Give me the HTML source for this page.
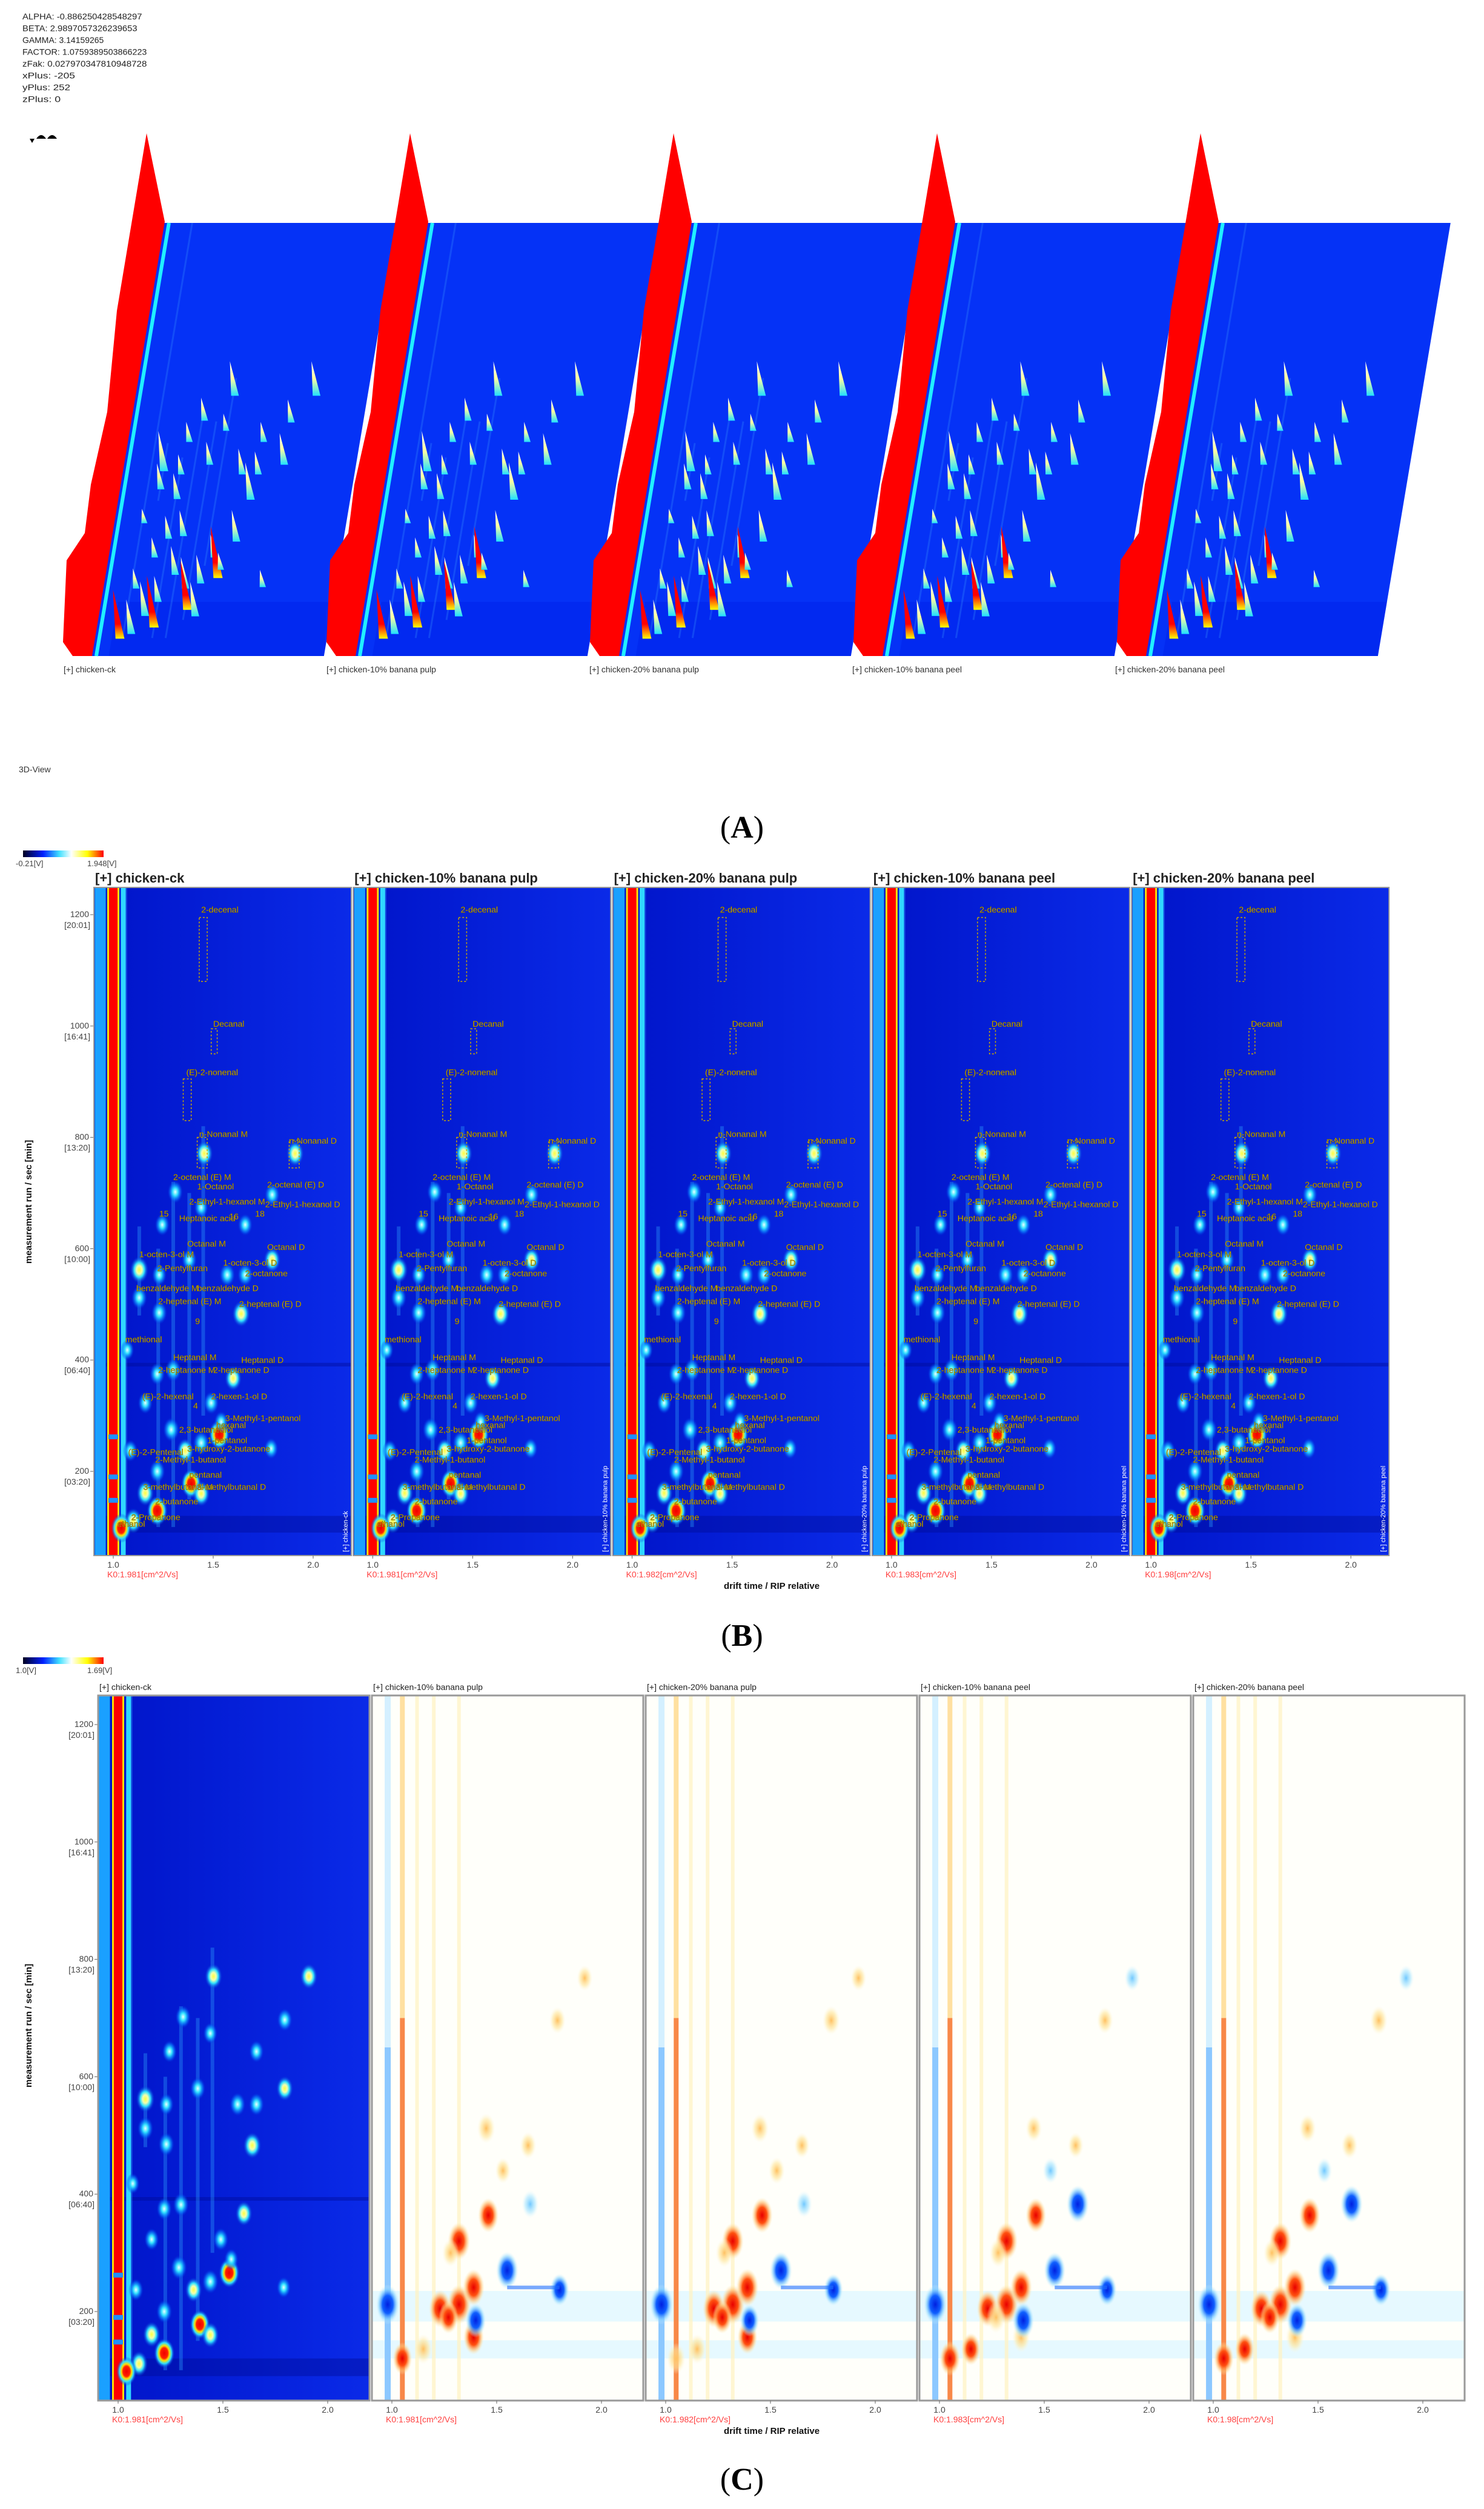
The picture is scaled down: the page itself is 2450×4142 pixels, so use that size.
<!DOCTYPE html>
<html><head><meta charset="utf-8"><title>GC-IMS figure</title>
<style>
html,body{margin:0;padding:0;background:#fff;}
svg{display:block;font-family:"Liberation Sans",Arial,sans-serif;}
</style></head>
<body>
<svg id="fig" xmlns="http://www.w3.org/2000/svg" width="2450" height="4142" viewBox="0 0 2450 4142">
<defs>
<radialGradient id="gLow"><stop offset="0" stop-color="#e8ffff"/><stop offset="0.35" stop-color="#30e0ff"/><stop offset="0.7" stop-color="#0a80ff" stop-opacity="0.6"/><stop offset="1" stop-color="#0030e0" stop-opacity="0"/></radialGradient>
<radialGradient id="gMid"><stop offset="0" stop-color="#ffff40"/><stop offset="0.3" stop-color="#f0ffb0"/><stop offset="0.55" stop-color="#30e0ff"/><stop offset="1" stop-color="#0030e0" stop-opacity="0"/></radialGradient>
<radialGradient id="gHigh"><stop offset="0" stop-color="#f00000"/><stop offset="0.35" stop-color="#ff2000"/><stop offset="0.5" stop-color="#ffe000"/><stop offset="0.7" stop-color="#30e0ff"/><stop offset="1" stop-color="#0030e0" stop-opacity="0"/></radialGradient>
<radialGradient id="gPos"><stop offset="0" stop-color="#e80000"/><stop offset="0.45" stop-color="#ff5010"/><stop offset="0.75" stop-color="#ffc070" stop-opacity="0.6"/><stop offset="1" stop-color="#fff0c0" stop-opacity="0"/></radialGradient>
<radialGradient id="gPosW"><stop offset="0" stop-color="#ffc060"/><stop offset="0.6" stop-color="#ffe8a0" stop-opacity="0.6"/><stop offset="1" stop-color="#fff8e0" stop-opacity="0"/></radialGradient>
<radialGradient id="gNeg"><stop offset="0" stop-color="#0020e0"/><stop offset="0.45" stop-color="#1060ff"/><stop offset="0.75" stop-color="#80d0ff" stop-opacity="0.6"/><stop offset="1" stop-color="#e0f8ff" stop-opacity="0"/></radialGradient>
<radialGradient id="gNegW"><stop offset="0" stop-color="#70c8ff"/><stop offset="0.6" stop-color="#b0e8ff" stop-opacity="0.6"/><stop offset="1" stop-color="#e8faff" stop-opacity="0"/></radialGradient>
<linearGradient id="cbarB" x1="0" x2="1"><stop offset="0" stop-color="#000020"/><stop offset="0.25" stop-color="#0020ff"/><stop offset="0.45" stop-color="#40e0ff"/><stop offset="0.6" stop-color="#ffffff"/><stop offset="0.8" stop-color="#ffff00"/><stop offset="1" stop-color="#ff0000"/></linearGradient>
<linearGradient id="bgB" x1="0" x2="1"><stop offset="0" stop-color="#0014c8"/><stop offset="1" stop-color="#0a2ae8"/></linearGradient>
<linearGradient id="pk3" x1="0" y1="1" x2="0" y2="0"><stop offset="0" stop-color="#20e0ff"/><stop offset="0.5" stop-color="#ffffa0"/><stop offset="1" stop-color="#ffffff"/></linearGradient>
<linearGradient id="pk3r" x1="0" y1="1" x2="0" y2="0"><stop offset="0" stop-color="#ffff00"/><stop offset="0.3" stop-color="#ff0000"/><stop offset="1" stop-color="#ff0000"/></linearGradient>
</defs>
</svg>
<script>
// ---------------- data ----------------
const sampleNames = ['chicken-ck','chicken-10% banana pulp','chicken-20% banana pulp','chicken-10% banana peel','chicken-20% banana peel'];
const k0Values = ['1.981','1.981','1.982','1.983','1.98'];
const yTickValues = [200,400,600,800,1000,1200];
const yTickTimes = ['[03:20]','[06:40]','[10:00]','[13:20]','[16:41]','[20:01]'];
const xTickValues = [1.0,1.5,2.0];
const paramLines = ['ALPHA: -0.886250428548297','BETA: 2.9897057326239653','GAMMA: 3.14159265','FACTOR: 1.0759389503866223','zFak: 0.027970347810948728','xPlus: -205','yPlus: 252','zPlus: 0'];
// peaks (drift time relative, retention sec, intensity 0..1)
const peakDrift = [1.455,1.91,1.31,1.795,1.245,1.44,1.66,1.38,1.795,1.13,1.57,1.66,1.23,1.13,1.23,1.64,1.30,1.60,1.22,1.16,1.49,1.53,1.44,1.36,1.22,1.39,1.16,1.22,1.10,1.04,1.085,1.29,1.54,1.07,1.79,1.44];
const peakRT    = [771,771,702,697,643,674,643,580,580,562,553,553,553,512,485,483,382,367,375,323,323,266,251,237,200,178,161,129,111,98,237,275,289,418,241,160];
const peakInt   = [0.6,0.6,0.4,0.4,0.35,0.3,0.35,0.4,0.55,0.7,0.45,0.4,0.35,0.45,0.45,0.65,0.45,0.55,0.4,0.35,0.4,0.9,0.5,0.55,0.45,0.85,0.6,0.9,0.6,0.85,0.35,0.5,0.3,0.25,0.3,0.6];
// faint vertical streaks
const streakDrift = [1.13,1.225,1.30,1.06,1.38,1.45];
const streakLow   = [480,100,100,100,150,300];
const streakHigh  = [640,600,720,1250,700,820];
// compound labels
const labelTexts = ['2-decenal','Decanal','(E)-2-nonenal','n-Nonanal M','n-Nonanal D','2-octenal (E) M','1-Octanol','2-octenal (E) D','2-Ethyl-1-hexanol M','2-Ethyl-1-hexanol D','15','Heptanoic acid','16','18','Octanal M','Octanal D','1-octen-3-ol M','2-Pentylfuran','1-octen-3-ol D','2-octanone','benzaldehyde M','benzaldehyde D','2-heptenal (E) M','2-heptenal (E) D','9','methional','Heptanal M','Heptanal D','2-heptanone M','2-heptanone D','(E)-2-hexenal','2-hexen-1-ol D','4','3-Methyl-1-pentanol','hexanal','2,3-butanediol','1-pentanol','3-hydroxy-2-butanone','(E)-2-Pentenal','2-Methyl-1-butanol','pentanal','3-methylbutanal M','3-methylbutanal D','2-butanone','2-Propanone','ethanol'];
const labelDrift = [1.44,1.50,1.365,1.43,1.88,1.30,1.42,1.77,1.38,1.76,1.23,1.33,1.58,1.71,1.37,1.77,1.13,1.22,1.55,1.66,1.115,1.42,1.225,1.63,1.41,1.06,1.30,1.64,1.225,1.50,1.145,1.49,1.40,1.56,1.515,1.33,1.47,1.37,1.075,1.21,1.38,1.15,1.42,1.21,1.09,1.02];
const labelRT    = [1209,1004,917,806,794,729,712,715,685,680,663,655,658,663,609,603,590,565,575,556,529,529,506,501,470,437,405,400,382,382,335,335,318,296,283,275,256,241,235,221,194,172,172,146,118,106];
// dashed compound boxes
const boxDrift0 = [1.43,1.49,1.35,1.42,1.88];
const boxDrift1 = [1.47,1.52,1.39,1.47,1.93];
const boxRT0    = [1080,950,830,745,745];
const boxRT1    = [1195,995,905,800,795];
// difference spots (C, relative to chicken-ck)
const diffDrift = [0.98,1.32,1.32,1.23,1.39,1.46,1.55,1.80,1.66,1.39,1.15,1.92,1.79,1.45,1.65,1.40,1.05,1.28,1.27,1.53];
const diffRT    = [212,212,320,205,241,364,270,237,383,156,136,768,696,512,483,185,120,300,190,440];
const diffPulp10 = [-0.95,0.95,0.85,0.85,0.8,0.7,-0.85,-0.6,-0.4,0.7,0.5,0.3,0.35,0.5,0.35,-0.7,0.6,0.4,0.6,0.3];
const diffPulp20 = [-0.95,0.95,0.8,0.85,0.85,0.75,-0.85,-0.6,-0.35,0.65,0.5,0.3,0.45,0.45,0.3,-0.6,0.55,0.45,0.6,0.35];
const diffPeel10 = [-0.95,0.95,0.85,0.8,0.8,0.7,-0.8,-0.6,-0.85,0.5,0.6,-0.3,0.35,0.35,0.3,-0.8,0.7,0.45,0.55,-0.3];
const diffPeel20 = [-0.95,0.95,0.85,0.8,0.85,0.75,-0.85,-0.6,-0.85,0.55,0.6,-0.3,0.45,0.4,0.35,-0.7,0.65,0.4,0.6,-0.3];
const diffSets = [null, diffPulp10, diffPulp20, diffPeel10, diffPeel20];

// ---------------- helpers ----------------
const NS = 'http://www.w3.org/2000/svg';
const svg = document.getElementById('fig');
function mk(tag, attrs, parent){
  const e = document.createElementNS(NS, tag);
  for (const k in attrs) e.setAttribute(k, attrs[k]);
  (parent || svg).appendChild(e);
  return e;
}
function txt(s, attrs, parent){ const e = mk('text', attrs, parent); e.textContent = s; return e; }

// ================= (A) 3D view =================
const gA = mk('g', {});


paramLines.forEach((s, i) => {
  const t = txt(s, {x:37, y:32 + i*19.5, 'font-size':14, fill:'#222', textLength: s.length*7.9, lengthAdjust:'spacingAndGlyphs'}, gA);
  
  
});
const icon = mk('g', {}, gA);


mk('path', {d:'M60 229 q8 -12 16 0 z M78 229 q8 -12 16 0 z', fill:'#000'}, icon);
mk('path', {d:'M49 229 l8 0 l-4 7 z', fill:'#000'}, icon);

function proj(i, dt, rt, h){
  const f = (rt - 50) / 1200;
  return [150 + 435*i + f*120 + (dt - 0.9)*296 - 0.12*h, 1083 - f*715 - h];
}
for (let i = 0; i < 5; i++){
  const g = mk('g', {}, gA);
  
  
  const c = [proj(i,0.9,50,0), proj(i,2.2,50,0), proj(i,2.2,1250,0), proj(i,0.9,1250,0)];
  const sh = mk('polygon', {points: c.map(p=>p.join(',')).join(' '), fill:'#0532f6'}, g);
  
  
  const lb = [proj(i,1.0,50,0), proj(i,2.2,50,0), proj(i,2.2,200,0), proj(i,1.0,200,0)];
  mk('polygon', {points: lb.map(p=>p.join(',')).join(' '), fill:'#0020ea', opacity:0.5}, g);
  streakDrift.forEach((d, k) => {
    const a = proj(i,d,streakLow[k],0), b = proj(i,d,streakHigh[k],0);
    const s = mk('line', {x1:a[0], y1:a[1], x2:b[0], y2:b[1], stroke:'#40a0ff', 'stroke-width':3, opacity:0.25}, g);
    
    
  });
  const ox = 435*i;
  const wall = [[242,220],[272,366],[152,1083],[120,1083],[104,1060],[110,925],[140,880],[150,800],[177,680],[193,513]].map(p=>[p[0]+ox,p[1]]);
  const w = mk('polygon', {points: wall.map(p=>p.join(',')).join(' '), fill:'#ff0000'}, g);
  
  
  const la = proj(i,0.92,50,0), lb2 = proj(i,0.92,1250,0);
  const cl = mk('line', {x1:la[0]+3, y1:la[1], x2:lb2[0]+3, y2:lb2[1], stroke:'#20f0ff', 'stroke-width':6}, g);
  
  
  peakDrift.forEach((d, k) => {
    const h = peakInt[k] * 95;
    const b = proj(i, d, peakRT[k], 0), a = proj(i, d, peakRT[k], h);
    const wdt = 5 + peakInt[k]*5;
    const p = mk('polygon', {points: `${a[0]},${a[1]} ${b[0]+wdt},${b[1]} ${b[0]-wdt*0.6},${b[1]}`, fill: peakInt[k] > 0.75 ? 'url(#pk3r)' : 'url(#pk3)'}, g);
    
    
  });
  const lbl = txt('[+] ' + sampleNames[i], {x:105 + 434*i, y:1110, 'font-size':14, fill:'#333'}, gA);
  
  
}
const v3 = txt('3D-View', {x:31, y:1275, 'font-size':14, fill:'#333'}, gA);



function panelLetter(letter, y, name){
  const t = mk('text', {x:1225, y:y, 'font-size':52, 'font-family':'"Liberation Serif",serif', 'text-anchor':'middle', fill:'#000'});
  
  
  t.appendChild(document.createTextNode('('));
  const b = document.createElementNS(NS, 'tspan'); b.setAttribute('font-weight','bold'); b.textContent = letter; t.appendChild(b);
  t.appendChild(document.createTextNode(')'));
}
panelLetter('A', 1383, 'panel-label-a');
panelLetter('B', 2717, 'panel-label-b');
panelLetter('C', 4110, 'panel-label-c');

// ================= generic 2D topographic panel =================
function buildSection(cfg){
  const g = mk('g', {});
  
  
  const X = (i, d) => cfg.x0 + cfg.step*i + cfg.d1 + (d - 1)*cfg.dScale;
  const Y = rt => cfg.y200 - (rt - 200)*cfg.rtScale;
  const cb = mk('rect', {x:38, y:cfg.cbY, width:133, height:11, fill:'url(#cbarB)'}, g);
  
  
  const cl1 = txt(cfg.cbMin, {x:26, y:cfg.cbY+26, 'font-size':13, fill:'#444'}, g);
  
  
  const cl2 = txt(cfg.cbMax, {x:144, y:cfg.cbY+26, 'font-size':13, fill:'#444'}, g);
  
  
  const yt = txt('measurement run / sec [min]', {x:0, y:0, 'font-size':15, 'font-weight':'bold', fill:'#111', 'text-anchor':'middle', transform:`translate(52 ${cfg.yTitleY}) rotate(-90)`}, g);
  
  
  yTickValues.forEach((v, k) => {
    const y = Y(v);
    const t1 = txt(String(v), {x:cfg.x0-8, y:y+4, 'font-size':14, fill:'#444', 'text-anchor':'end'}, g);
    
    
    const t2 = txt(yTickTimes[k], {x:cfg.x0-6, y:y+22, 'font-size':14, fill:'#444', 'text-anchor':'end'}, g);
    
    
    const tm = mk('line', {x1:cfg.x0-6, x2:cfg.x0, y1:y, y2:y, stroke:'#666', 'stroke-width':1}, g);
    
    
  });
  const py0 = cfg.top, py1 = cfg.bottom;
  for (let i = 0; i < 5; i++){
    const px = cfg.x0 + cfg.step*i;
    const pg = mk('g', {}, g);
    
    
    const cp = mk('clipPath', {id: cfg.id + 'clip' + i}, pg);
    mk('rect', {x:px, y:py0, width:cfg.w, height:py1-py0}, cp);
    const inner = mk('g', {'clip-path': `url(#${cfg.id}clip${i})`}, pg);
    const isDiff = cfg.diff && i > 0;
    if (!isDiff){
      const bg = mk('rect', {x:px, y:py0, width:cfg.w, height:py1-py0, fill:'url(#bgB)'}, inner);
      
      
      mk('rect', {x:px, y:Y(120), width:cfg.w, height:Y(90)-Y(120), fill:'#000a90', opacity:0.4}, inner);
      mk('rect', {x:px, y:Y(395), width:cfg.w, height:6, fill:'#000a90', opacity:0.4}, inner);
      streakDrift.forEach((d, k) => {
        const s = mk('rect', {x:X(i,d)-3, y:Y(streakHigh[k]), width:6, height:Y(streakLow[k])-Y(streakHigh[k]), fill:'#30a8ff', opacity:0.35}, inner);
        
        
      });
      mk('rect', {x:X(i,0.935)-9, y:py0, width:18, height:py1-py0, fill:'#1aa0ff'}, inner);
      mk('rect', {x:X(i,1.0)-10, y:py0, width:20, height:py1-py0, fill:'#ffe000'}, inner);
      const rip = mk('rect', {x:X(i,1.0)-7, y:py0, width:14, height:py1-py0, fill:'#ff0000'}, inner);
      
      
      mk('rect', {x:X(i,1.05)-4, y:py0, width:8, height:py1-py0, fill:'#30d8ff'}, inner);
      [262,190,148].forEach(rt => mk('rect', {x:X(i,1.0)-8, y:Y(rt)-4, width:16, height:8, fill:'#2090ff'}, inner));
      peakDrift.forEach((d, k) => {
        const v = peakInt[k];
        const e = mk('ellipse', {cx:X(i,d), cy:Y(peakRT[k]), rx:9+v*9, ry:14+v*12, fill: v>0.75?'url(#gHigh)':(v>0.5?'url(#gMid)':'url(#gLow)')}, inner);
        
        
      });
      if (cfg.labels){
        boxDrift0.forEach((d, k) => {
          const b = mk('rect', {x:X(i,d), y:Y(boxRT1[k]), width:X(i,boxDrift1[k])-X(i,d), height:Y(boxRT0[k])-Y(boxRT1[k]), fill:'none', stroke:'#c8a800', 'stroke-width':1.5, 'stroke-dasharray':'3 3'}, inner);
          
          
        });
        labelTexts.forEach((s, k) => {
          const t = txt(s, {x:X(i,labelDrift[k]), y:Y(labelRT[k])+5, 'font-size':14, fill:'#d8b400', stroke:'#6a5800', 'stroke-width':0.4}, inner);
          
          
        });
      }
    } else {
      const bg = mk('rect', {x:px, y:py0, width:cfg.w, height:py1-py0, fill:'#fffffa'}, inner);
      
      
      mk('rect', {x:px, y:Y(235), width:cfg.w, height:Y(183)-Y(235), fill:'#e6f9ff'}, inner);
      mk('rect', {x:px, y:Y(151), width:cfg.w, height:Y(120)-Y(151), fill:'#e6f9ff'}, inner);
      mk('rect', {x:X(i,0.98)-5, y:py0, width:10, height:Y(650)-py0, fill:'#d4f0ff'}, inner);
      mk('rect', {x:X(i,0.98)-5, y:Y(650), width:10, height:py1-Y(650), fill:'#8cc8ff'}, inner);
      mk('rect', {x:X(i,1.05)-4, y:py0, width:8, height:Y(700)-py0, fill:'#ffe0a0'}, inner);
      mk('rect', {x:X(i,1.05)-4, y:Y(700), width:8, height:py1-Y(700), fill:'#f88848'}, inner);
      [1.12,1.2,1.32].forEach(d => mk('rect', {x:X(i,d)-3, y:py0, width:6, height:py1-py0, fill:'#fff2c0', opacity:0.7}, inner));
      const vals = diffSets[i];
      diffDrift.forEach((d, k) => {
        const v = vals[k];
        const a = Math.abs(v);
        const fill = v > 0 ? (a > 0.55 ? 'url(#gPos)' : 'url(#gPosW)') : (a > 0.55 ? 'url(#gNeg)' : 'url(#gNegW)');
        const e = mk('ellipse', {cx:X(i,d), cy:Y(diffRT[k]), rx:10+a*10, ry:16+a*18, fill:fill}, inner);
        
        
      });
      const tail = mk('rect', {x:X(i,1.55), y:Y(241)-3, width:X(i,1.8)-X(i,1.55), height:6, fill:'#2070ff', opacity:0.6}, inner);
      
      
    }
    if (cfg.sideLabel){
      const sl = txt('[+] ' + sampleNames[i], {x:0, y:0, 'font-size':11, fill:'#fff', transform:`translate(${px+cfg.w-6} ${py1-6}) rotate(-90)`}, pg);
      
      
    }
    const fr = mk('rect', {x:px, y:py0, width:cfg.w, height:py1-py0, fill:'none', stroke:cfg.frame, 'stroke-width':cfg.frameW}, pg);
    
    
    const ti = txt('[+] ' + sampleNames[i], {x:px+2, y:cfg.titleY, 'font-size':cfg.titleSize, 'font-weight':cfg.titleWeight, fill:'#222'}, pg);
    
    
    xTickValues.forEach(v => {
      const x = X(i, v);
      const tk = mk('line', {x1:x, x2:x, y1:py1, y2:py1+5, stroke:'#666'}, pg);
      
      
      const tl = txt(v.toFixed(1), {x:x, y:py1+20, 'font-size':14, fill:'#444', 'text-anchor':'middle'}, pg);
      
      
    });
    const k0 = txt('K0:' + k0Values[i] + '[cm^2/Vs]', {x:X(i,1.0)-10, y:py1+36, 'font-size':14, fill:'#ff4040'}, pg);
    
    
  }
  const xt = txt('drift time / RIP relative', {x:1195, y:cfg.bottom+55, 'font-size':15, 'font-weight':'bold', fill:'#111'}, g);
  
  
}

buildSection({name:'panel-b-topographic', id:'b', x0:155, step:428.3, w:425, d1:32, dScale:330, y200:2429, rtScale:0.919, top:1465, bottom:2568,
  cbY:1404, cbMin:'-0.21[V]', cbMax:'1.948[V]', yTitleY:1984, titleY:1457, titleSize:22, titleWeight:'bold', frame:'#999', frameW:2,
  labels:true, sideLabel:true, diff:false});
buildSection({name:'panel-c-difference', id:'c', x0:162, step:452, w:448, d1:33, dScale:346, y200:3816, rtScale:0.969, top:2799, bottom:3963,
  cbY:2736, cbMin:'1.0[V]', cbMax:'1.69[V]', yTitleY:3344, titleY:2790, titleSize:14, titleWeight:'normal', frame:'#999', frameW:3,
  labels:false, sideLabel:false, diff:true});
</script>
</body></html>
